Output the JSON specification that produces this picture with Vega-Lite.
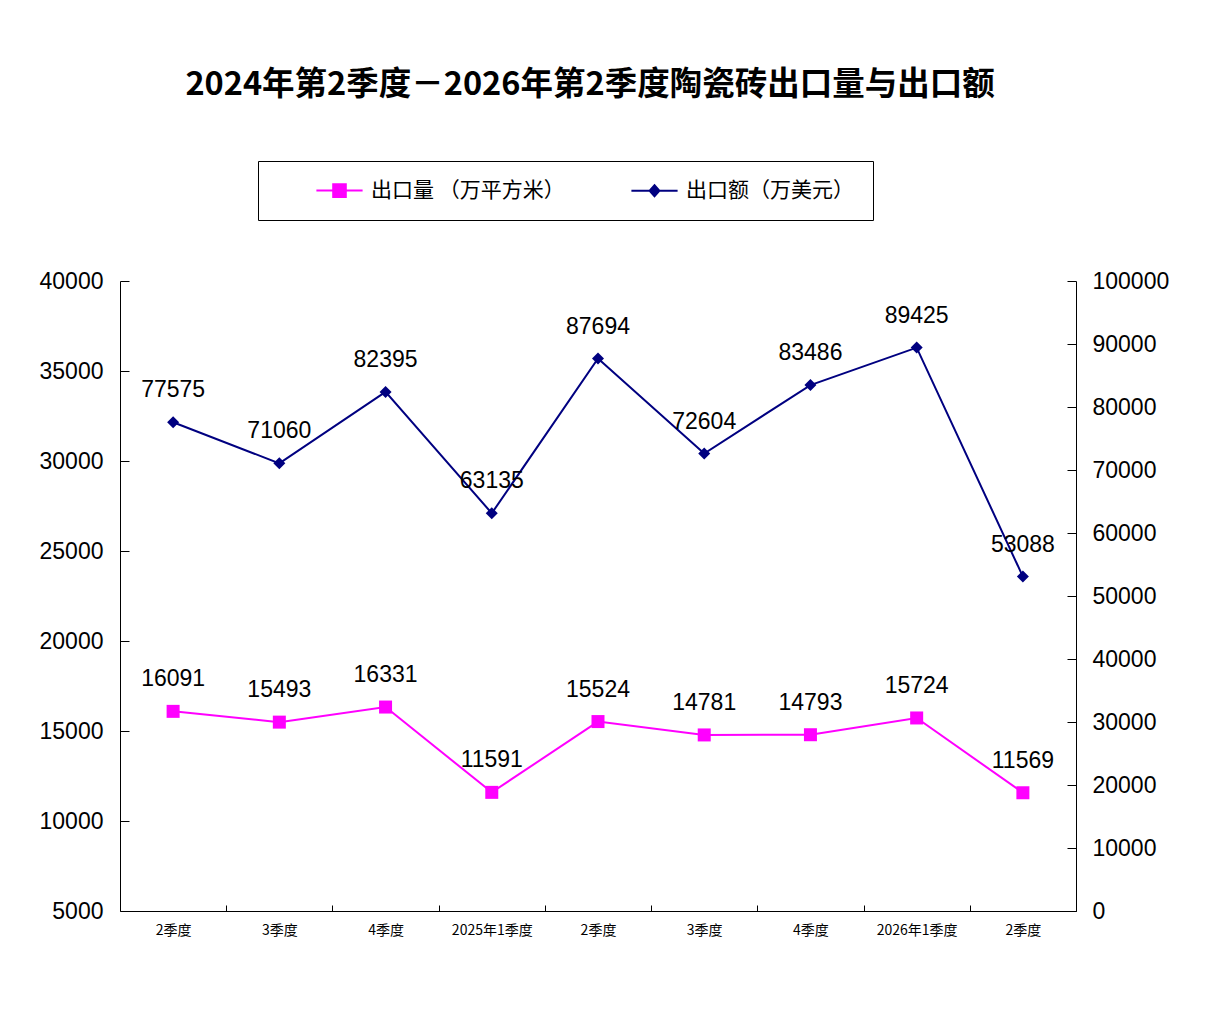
{
  "$schema": "https://vega.github.io/schema/vega-lite/v6.json",
  "width": 956,
  "height": 630,
  "autosize": {"type": "none"},
  "padding": {"left": 120, "top": 281, "right": 148, "bottom": 101},
  "background": "white",
  "title": {
    "text": "2024年第2季度－2026年第2季度陶瓷砖出口量与出口额",
    "font": "Noto Sans CJK SC",
    "fontSize": 32.5,
    "fontWeight": "bold",
    "color": "black",
    "anchor": "middle",
    "frame": "group",
    "baseline": "middle",
    "offset": 43,
    "dx": -8
  },
  "data": {
    "values": [
      {"period": "2024年2季度", "series": "出口量 （万平方米）", "value": 16091},
      {"period": "2024年3季度", "series": "出口量 （万平方米）", "value": 15493},
      {"period": "2024年4季度", "series": "出口量 （万平方米）", "value": 16331},
      {"period": "2025年1季度", "series": "出口量 （万平方米）", "value": 11591},
      {"period": "2025年2季度", "series": "出口量 （万平方米）", "value": 15524},
      {"period": "2025年3季度", "series": "出口量 （万平方米）", "value": 14781},
      {"period": "2025年4季度", "series": "出口量 （万平方米）", "value": 14793},
      {"period": "2026年1季度", "series": "出口量 （万平方米）", "value": 15724},
      {"period": "2026年2季度", "series": "出口量 （万平方米）", "value": 11569},
      {"period": "2024年2季度", "series": "出口额（万美元）", "value": 77575},
      {"period": "2024年3季度", "series": "出口额（万美元）", "value": 71060},
      {"period": "2024年4季度", "series": "出口额（万美元）", "value": 82395},
      {"period": "2025年1季度", "series": "出口额（万美元）", "value": 63135},
      {"period": "2025年2季度", "series": "出口额（万美元）", "value": 87694},
      {"period": "2025年3季度", "series": "出口额（万美元）", "value": 72604},
      {"period": "2025年4季度", "series": "出口额（万美元）", "value": 83486},
      {"period": "2026年1季度", "series": "出口额（万美元）", "value": 89425},
      {"period": "2026年2季度", "series": "出口额（万美元）", "value": 53088}
    ]
  },
  "encoding": {
    "x": {
      "field": "period",
      "type": "ordinal",
      "sort": null,
      "scale": {"type": "point", "padding": 0.5},
      "axis": {
        "title": null,
        "orient": "bottom",
        "tickSize": -6,
        "tickOffset": 53.1,
        "labelOffset": -53.1,
        "labelAngle": 0,
        "labelPadding": 18,
        "labelFont": "Noto Sans CJK SC",
        "labelFontSize": 14,
        "labelColor": "black",
        "domainColor": "black",
        "tickColor": "black",
        "grid": false,
        "labelExpr": "indexof(datum.value, '年1季度') >= 0 ? datum.value : substring(datum.value, 5)"
      }
    }
  },
  "layer": [
    {
      "transform": [{"filter": "datum.series === '出口量 （万平方米）'"}],
      "encoding": {
        "y": {
          "field": "value",
          "type": "quantitative",
          "scale": {"domain": [5000, 40000], "nice": false, "zero": false},
          "axis": {
            "orient": "left",
            "title": null,
            "values": [5000, 10000, 15000, 20000, 25000, 30000, 35000, 40000],
            "format": "d",
            "tickSize": -9,
            "labelPadding": 26,
            "labelFont": "Liberation Sans",
            "labelFontSize": 23,
            "labelColor": "black",
            "domainColor": "black",
            "tickColor": "black",
            "grid": false
          }
        }
      },
      "layer": [
        {
          "mark": {
            "type": "line",
            "strokeWidth": 2,
            "point": {"shape": "square", "size": 169, "filled": true, "opacity": 1}
          },
          "encoding": {
            "color": {
              "field": "series",
              "type": "nominal",
              "scale": {
                "domain": ["出口量 （万平方米）", "出口额（万美元）"],
                "range": ["#FF00FF", "#000080"]
              },
              "legend": {
                "title": null,
                "orient": "none",
                "legendX": 138,
                "legendY": -120,
                "direction": "horizontal",
                "strokeColor": "black",
                "fillColor": "white",
                "padding": 19,
                "columnPadding": 27,
                "symbolOffset": 52,
                "labelOffset": 21,
                "labelFont": "Noto Sans CJK SC",
                "labelFontSize": 21,
                "labelColor": "black",
                "labelLimit": 400,
                "encode": {
                  "symbols": {
                    "update": {
                      "shape": {"signal": "datum.value === '出口量 （万平方米）' ? 'M-3.3,0H3.3M-0.9,-0.9H0.9V0.9H-0.9Z' : 'M-3.3,0H3.3M0,-0.8L0.7,0L0,0.8L-0.7,0Z'"},
                      "fill": {"scale": "color", "field": "value"},
                      "stroke": {"scale": "color", "field": "value"},
                      "strokeWidth": {"value": 2},
                      "size": {"value": 196},
                      "opacity": {"value": 1},
                      "fillOpacity": {"value": 1}
                    }
                  }
                }
              }
            }
          }
        },
        {
          "mark": {"type": "text", "dy": -32, "font": "Liberation Sans", "fontSize": 23, "color": "black"},
          "encoding": {"text": {"field": "value", "type": "quantitative", "format": "d"}}
        }
      ]
    },
    {
      "transform": [{"filter": "datum.series === '出口额（万美元）'"}],
      "encoding": {
        "y": {
          "field": "value",
          "type": "quantitative",
          "scale": {"domain": [0, 100000], "nice": false},
          "axis": {
            "orient": "right",
            "title": null,
            "values": [0, 10000, 20000, 30000, 40000, 50000, 60000, 70000, 80000, 90000, 100000],
            "format": "d",
            "tickSize": -9,
            "labelPadding": 25,
            "labelFont": "Liberation Sans",
            "labelFontSize": 23,
            "labelColor": "black",
            "domainColor": "black",
            "tickColor": "black",
            "grid": false
          }
        }
      },
      "layer": [
        {
          "mark": {
            "type": "line",
            "strokeWidth": 2,
            "point": {"shape": "diamond", "size": 144, "filled": true, "opacity": 1}
          },
          "encoding": {
            "color": {"field": "series", "type": "nominal"}
          }
        },
        {
          "mark": {"type": "text", "dy": -32, "font": "Liberation Sans", "fontSize": 23, "color": "black"},
          "encoding": {"text": {"field": "value", "type": "quantitative", "format": "d"}}
        }
      ]
    }
  ],
  "resolve": {"scale": {"y": "independent"}},
  "config": {"view": {"stroke": null}}
}
